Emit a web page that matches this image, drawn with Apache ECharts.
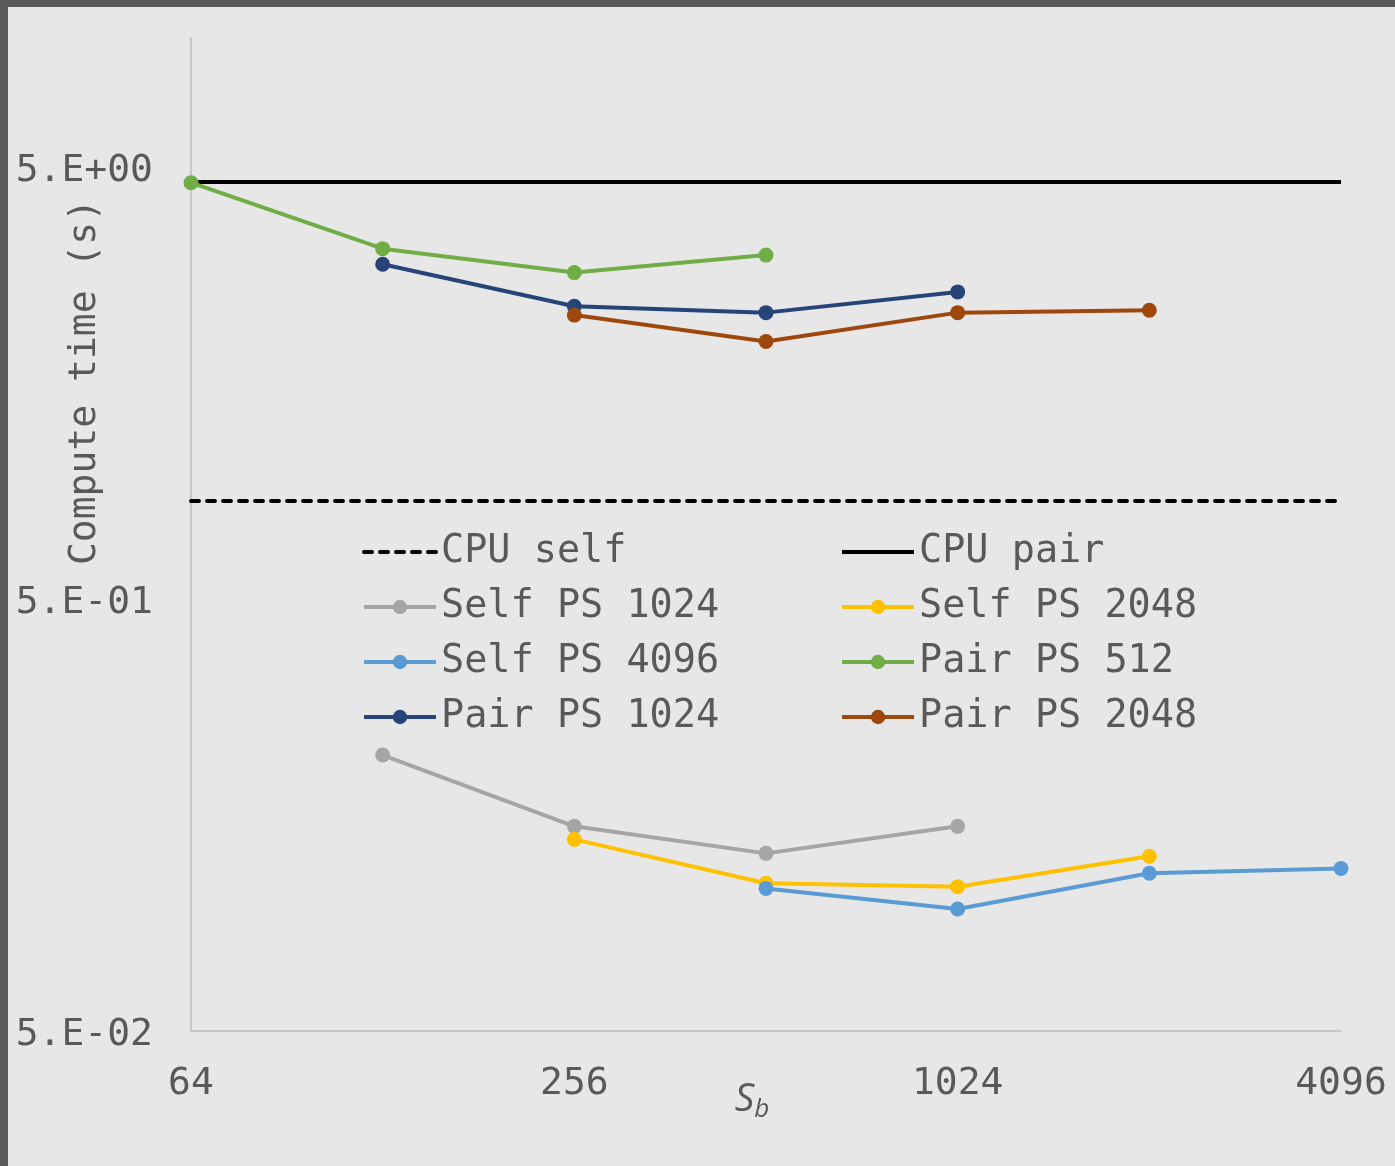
<!DOCTYPE html>
<html>
<head>
<meta charset="utf-8">
<title>Compute time vs S_b</title>
<script src="https://cdn.jsdelivr.net/npm/echarts@6/dist/echarts.min.js"></script>
<style>
  html, body { margin: 0; padding: 0; background: #595959; }
  #chart { position: absolute; left: 8px; top: 7px; width: 1387px; height: 1159px; background: #e7e7e7; }
</style>
</head>
<body>
<div id="chart"></div>
<script>
// Block size S_b (x) and compute time in seconds (y), log scales on both axes
const xTicks = [64, 256, 1024, 4096];
const cpuX = [64, 4096];
const cpuSelf = [0.846, 0.846];
const cpuPair = [4.64, 4.64];

const selfPS1024X = [128, 256, 512, 1024];
const selfPS1024 = [0.218, 0.149, 0.129, 0.149];

const selfPS2048X = [256, 512, 1024, 2048];
const selfPS2048 = [0.139, 0.110, 0.108, 0.127];

const selfPS4096X = [512, 1024, 2048, 4096];
const selfPS4096 = [0.107, 0.0959, 0.116, 0.119];

const pairPS512X = [64, 128, 256, 512];
const pairPS512 = [4.62, 3.25, 2.86, 3.14];

const pairPS1024X = [128, 256, 512, 1024];
const pairPS1024 = [2.99, 2.39, 2.31, 2.58];

const pairPS2048X = [256, 512, 1024, 2048];
const pairPS2048 = [2.28, 1.98, 2.31, 2.34];

const FONT = '"DejaVu Sans Mono", "Liberation Mono", monospace';
const TEXT = '#595959';

function pairs(xs, ys) { return xs.map((x, i) => [x, ys[i]]); }

// "5.E-01" style labels
function sciLabel(v) {
  const e = Math.floor(Math.log10(v) + 1e-9);
  const m = Math.round(v / Math.pow(10, e));
  const sign = e < 0 ? '-' : '+';
  const ae = Math.abs(e);
  return m + '.E' + sign + (ae < 10 ? '0' + ae : ae);
}

function markerSeries(name, color, xs, ys) {
  return {
    name, type: 'line', data: pairs(xs, ys),
    symbol: 'circle', symbolSize: 15, showSymbol: true,
    lineStyle: { color, width: 4 },
    itemStyle: { color },
    emphasis: { disabled: true },
    z: 3
  };
}

const chart = echarts.init(document.getElementById('chart'), null, { renderer: 'canvas' });

const legendCommon = {
  orient: 'vertical', padding: 0, itemGap: 15,
  itemWidth: 72, itemHeight: 18,
  lineStyle: { width: 4 },
  textStyle: { fontFamily: FONT, fontSize: 38.5, color: TEXT, lineHeight: 40 },
  selectedMode: false
};

// the CPU reference lines have no markers, so their legend icons are plain lines
const noMarker = { color: 'rgba(0,0,0,0)', opacity: 0 };

chart.setOption({
  animation: false,
  backgroundColor: '#e7e7e7',
  grid: { left: 183, right: 54, top: 31, bottom: 135, containLabel: false },
  xAxis: {
    type: 'log', logBase: 2, min: 64, max: 4096, interval: 2,
    axisLine: { show: true, lineStyle: { color: '#c6c6c6', width: 2 } },
    axisTick: { show: false },
    splitLine: { show: false },
    axisLabel: { fontFamily: FONT, fontSize: 38, color: TEXT, margin: 34,
      formatter: v => String(Math.round(v)) }
  },
  yAxis: {
    type: 'log', logBase: 10, min: 0.05, max: 10, interval: 1,
    axisLine: { show: true, lineStyle: { color: '#c6c6c6', width: 2 } },
    axisTick: { show: false },
    splitLine: { show: false },
    axisLabel: { fontFamily: FONT, fontSize: 38, color: TEXT, margin: 38,
      verticalAlign: 'top', lineHeight: 8,
      showMaxLabel: false,
      formatter: v => (v > 9 ? '' : sciLabel(v)) }
  },
  legend: [
    Object.assign({ left: 354, top: 525,
      data: [{ name: 'CPU self', itemStyle: noMarker }, 'Self PS 1024', 'Self PS 4096', 'Pair PS 1024'] }, legendCommon),
    Object.assign({ left: 832, top: 525,
      data: [{ name: 'CPU pair', itemStyle: noMarker }, 'Self PS 2048', 'Pair PS 512', 'Pair PS 2048'] }, legendCommon)
  ],
  graphic: [
    {
      type: 'text', x: 77, y: 375, rotation: Math.PI / 2,
      style: { text: 'Compute time (s)', font: '38px ' + FONT, fill: TEXT,
        align: 'center', verticalAlign: 'middle' }
    },
    {
      type: 'text', x: 744, y: 1093,
      style: {
        text: '{s|S}{b|b}',
        align: 'center', verticalAlign: 'middle',
        rich: {
          s: { fontFamily: '"Open Sans", "Noto Sans", sans-serif', fontStyle: 'italic', fontSize: 39, fill: TEXT },
          b: { fontFamily: '"Open Sans", "Noto Sans", sans-serif', fontStyle: 'italic', fontSize: 26, fill: TEXT, padding: [20, 0, 0, 0] }
        }
      }
    }
  ],
  series: [
    {
      name: 'CPU self', type: 'line', data: pairs(cpuX, cpuSelf), showSymbol: false, symbol: 'none',
      lineStyle: { color: '#000', width: 4, type: [8, 8], cap: 'round' },
      itemStyle: { color: '#000' }, emphasis: { disabled: true }, z: 2
    },
    {
      name: 'CPU pair', type: 'line', data: pairs(cpuX, cpuPair), showSymbol: false, symbol: 'none',
      lineStyle: { color: '#000', width: 4 },
      itemStyle: { color: '#000' }, emphasis: { disabled: true }, z: 2
    },
    markerSeries('Self PS 1024', '#a5a5a5', selfPS1024X, selfPS1024),
    markerSeries('Self PS 2048', '#ffc000', selfPS2048X, selfPS2048),
    markerSeries('Self PS 4096', '#5b9bd5', selfPS4096X, selfPS4096),
    markerSeries('Pair PS 512', '#70ad47', pairPS512X, pairPS512),
    markerSeries('Pair PS 1024', '#264478', pairPS1024X, pairPS1024),
    markerSeries('Pair PS 2048', '#9e480e', pairPS2048X, pairPS2048)
  ]
});
</script>
</body>
</html>
